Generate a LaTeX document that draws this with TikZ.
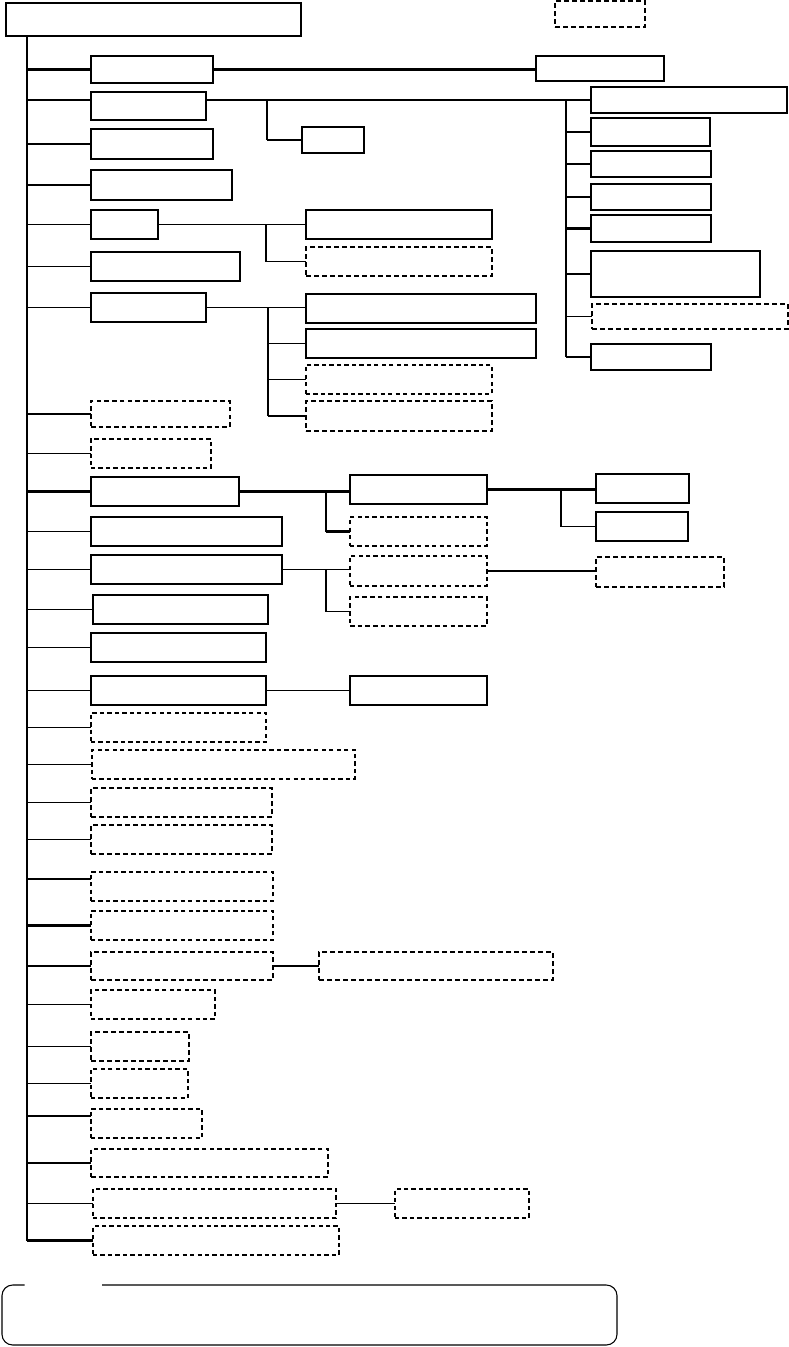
\documentclass[tikz,border=0pt]{standalone}
\usetikzlibrary{calc}
\tikzset{
  sbox/.style={draw, line width=0.8pt, inner sep=0pt, outer sep=0pt},
  dbox/.style={sbox, dash pattern=on 3.2pt off 2.4pt},
  mdbox/.style={sbox, line width=1pt, dash pattern=on 3.4pt off 2.4pt},
  tdbox/.style={sbox, line width=1.2pt, dash pattern=on 3.6pt off 2.4pt},
  conn/.style={line width=0.8pt},
  tconn/.style={line width=1.6pt}
}
\newcommand\mybox[6]{\node[#2, anchor=north west, minimum width={(#5-#3)*0.75pt}, minimum height={(#6-#4)*0.75pt}] (#1) at (#3,#4) {};}
\begin{document}
\begin{tikzpicture}[x=0.75pt,y=-0.75pt]
\useasboundingbox (0,0) rectangle (789,1347);
% top
\mybox{top}{sbox}{6}{3}{301}{36}
\mybox{tr}{tdbox}{555}{1}{645}{27}
\coordinate (T) at (27,36);
% level 1
\mybox{b1}{sbox}{91}{56}{213}{83}
\mybox{b2}{sbox}{91}{92}{206}{120}
\mybox{b3}{sbox}{91}{129}{213}{159}
\mybox{b4}{sbox}{91}{170}{232}{200}
\mybox{b5}{sbox}{91}{210}{158}{239}
\mybox{b6}{sbox}{91}{252}{240}{281}
\mybox{b7}{sbox}{91}{293}{206}{322}
\mybox{b8}{mdbox}{91}{401}{230}{427}
\mybox{b9}{dbox}{91}{439}{211}{468}
\mybox{b10}{sbox}{91}{477}{239}{506}
\mybox{b11}{sbox}{91}{517}{282}{546}
\mybox{b12}{sbox}{91}{555}{282}{584}
\mybox{b13}{sbox}{93}{595}{268}{624}
\mybox{b14}{sbox}{91}{633}{266}{662}
\mybox{b15}{sbox}{91}{676}{266}{705}
\mybox{b16}{dbox}{91}{713}{266}{742}
\mybox{b17}{dbox}{92}{750}{355}{779}
\mybox{b18}{tdbox}{91}{788}{272}{817}
\mybox{b19}{tdbox}{91}{825}{272}{854}
\mybox{b20}{dbox}{91}{872}{273}{901}
\mybox{b21}{dbox}{91}{911}{273}{940}
\mybox{b22}{tdbox}{91}{952}{273}{980}
\mybox{b23}{dbox}{91}{990}{215}{1019}
\mybox{b24}{tdbox}{91}{1032}{189}{1061}
\mybox{b25}{dbox}{91}{1069}{188}{1098}
\mybox{b26}{dbox}{91}{1109}{202}{1138}
\mybox{b27}{mdbox}{91}{1149}{328}{1177}
\mybox{b28}{dbox}{93}{1189}{336}{1218}
\mybox{b29}{dbox}{93}{1226}{339}{1255}
% level 2 and 3
\mybox{r1}{sbox}{536}{56}{664}{81}
\mybox{c2}{sbox}{302}{127}{364}{153}
\mybox{r2a}{sbox}{591}{87}{787}{113}
\mybox{r2b}{sbox}{591}{118}{710}{146}
\mybox{r2c}{sbox}{591}{151}{711}{177}
\mybox{r2d}{sbox}{591}{184}{711}{210}
\mybox{r2e}{sbox}{591}{215}{711}{242}
\mybox{r2f}{sbox}{591}{251}{760}{297}
\mybox{r2g}{tdbox}{592}{304}{788}{329}
\mybox{r2h}{sbox}{591}{344}{711}{370}
\mybox{c5a}{sbox}{306}{210}{492}{239}
\mybox{c5b}{tdbox}{306}{247}{492}{276}
\mybox{c7a}{sbox}{306}{294}{536}{323}
\mybox{c7b}{sbox}{306}{329}{536}{358}
\mybox{c7c}{dbox}{306}{365}{492}{394}
\mybox{c7d}{tdbox}{306}{401}{492}{431}
\mybox{c10a}{sbox}{350}{475}{487}{504}
\mybox{c10b}{dbox}{350}{517}{487}{546}
\mybox{d10a}{sbox}{596}{474}{689}{503}
\mybox{d10b}{sbox}{596}{512}{688}{541}
\mybox{c12a}{dbox}{350}{556}{487}{586}
\mybox{c12b}{mdbox}{350}{597}{487}{626}
\mybox{d12}{tdbox}{596}{557}{724}{587}
\mybox{c15}{sbox}{350}{676}{487}{705}
\mybox{c22}{tdbox}{319}{952}{553}{980}
\mybox{c28}{dbox}{395}{1189}{529}{1218}
% trunk
\draw[conn] (T) -- (T |- b29.west);
% branches from trunk
\draw[tconn] (T |- b1.west) -- (b1.west);
\draw[conn] (T |- r2a.west) -- (b2.west |- r2a.west);
\draw[tconn] (T |- b3.west) -- (b3.west);
\foreach \n in {b4,b5,b6,b7,b9,b11,b12,b13,b14,b15,b16,b17,b18,b19,b22,b23,b24,b25,b27,b28}
  \draw[conn] (T |- \n.west) -- (\n.west);
\foreach \n in {b8,b10,b21,b29}
  \draw[tconn] (T |- \n.west) -- (\n.west);
\draw[conn] (T |- {$(b20.north west)+(0,7)$}) -- ($(b20.north west)+(0,7)$);
\draw[conn] (T |- {$(b26.north west)+(0,7)$}) -- ($(b26.north west)+(0,7)$);
% box 1
\draw[tconn] (b1.east) -- (b1.east -| r1.west);
% box 2
\coordinate (v2) at (267,0);
\coordinate (v2r) at (566,0);
\draw[conn] (b2.east |- r2a.west) -- (r2a.west);
\draw[conn] (v2 |- r2a.west) -- (v2 |- c2.west);
\draw[tconn] (v2 |- c2.west) -- (c2.west);
\draw[conn] (v2r |- r2a.west) -- (v2r |- r2h.west);
\foreach \n in {r2b,r2c,r2d,r2g,r2h}
  \draw[conn] (v2r |- \n.west) -- (\n.west);
\foreach \n in {r2e,r2f}
  \draw[tconn] (v2r |- \n.west) -- (\n.west);
% box 5
\coordinate (v5) at (266,0);
\draw[conn] (b5.east) -- (c5a.west);
\draw[conn] (v5 |- c5a.west) -- (v5 |- c5b.west) -- (c5b.west);
% box 7
\coordinate (v7) at (268,0);
\draw[conn] (b7.east) -- (b7.east -| c7a.west);
\draw[tconn] (v7 |- b7.east) -- (v7 |- c7d.west);
\foreach \n in {c7b,c7c,c7d}
  \draw[conn] (v7 |- \n.west) -- (\n.west);
% box 10
\coordinate (v10) at (326,0);
\coordinate (v10b) at (561,0);
\draw[tconn] (b10.east) -- (b10.east -| c10a.west);
\draw[conn] (v10 |- b10.east) -- (v10 |- c10b.west);
\draw[tconn] (v10 |- c10b.west) -- (c10b.west);
\draw[tconn] (c10a.east) -- (c10a.east -| d10a.west);
\draw[tconn] (v10b |- c10a.east) -- (v10b |- d10b.west);
\draw[conn] (v10b |- d10b.west) -- (d10b.west);
% box 12
\draw[conn] (b12.east) -- (b12.east -| c12a.west);
\draw[conn] (v10 |- b12.east) -- (v10 |- c12b.west) -- (c12b.west);
\draw[conn] (c12a.east) -- (c12a.east -| d12.west);
% others
\draw[conn] (b15.east) -- (c15.west);
\draw[conn] (b22.east) -- (c22.west);
\draw[conn] (b28.east) -- (c28.west);
% bottom frame
\draw[line width=0.8pt, rounded corners=8] (102,1285) -- (617,1285) -- (617,1345) -- (2,1345) -- (2,1285) -- (24.5,1285);
\end{tikzpicture}
\end{document}
